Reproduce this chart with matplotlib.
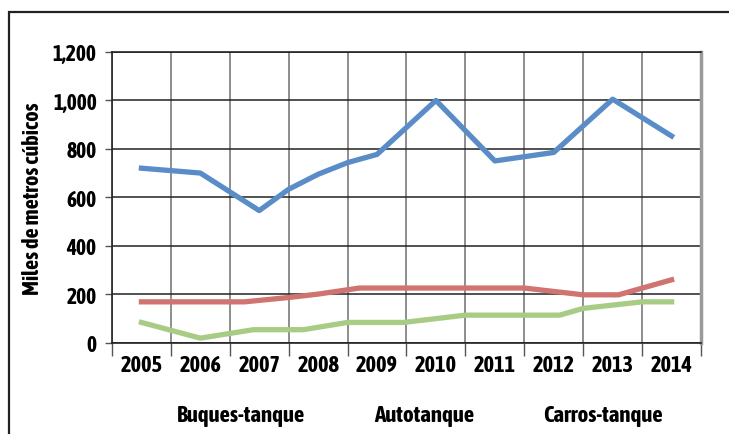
import matplotlib
matplotlib.use("Agg")
import matplotlib.pyplot as plt
from matplotlib.ticker import FuncFormatter, MultipleLocator
from matplotlib.patches import Rectangle

plt.rcParams['font.family'] = ['Asap Condensed', 'Archivo Narrow', 'DejaVu Sans']
plt.rcParams['font.weight'] = 'bold'
plt.rcParams['axes.labelweight'] = 'bold'

# datos (x en años, y en miles de m3)
years = [2005, 2006, 2007, 2008, 2009, 2010, 2011, 2012, 2013, 2014]

buques_x = [2005, 2006, 2007, 2007.5, 2008, 2008.5, 2009, 2010, 2011, 2012, 2013, 2014]
buques_y = [720, 700, 545, 633, 695, 743, 777, 1000, 750, 785, 1005, 853]

auto_x = [2005, 2006.75, 2007.5, 2008, 2008.7, 2011.5, 2012.5, 2013.1, 2014]
auto_y = [168, 168, 186, 200, 225, 225, 197, 197, 259]

carros_x = [2005, 2006, 2006.9, 2007.75, 2008.5, 2009.45, 2010.5, 2012.1, 2012.5, 2013.5, 2014]
carros_y = [83, 18, 53, 53, 83, 83, 113, 113, 141, 168, 168]

series = ['Buques-tanque', 'Autotanque', 'Carros-tanque']
colores = ['#5A8DC8', '#CF7470', '#A9CC85']

fig = plt.figure(figsize=(7.29, 4.35), dpi=100)
ax = fig.add_axes([0.1536, 0.2103, 0.8080, 0.6679])

ax.plot(buques_x, buques_y, color=colores[0], lw=3.8, label=series[0], zorder=3)
ax.plot(auto_x, auto_y, color=colores[1], lw=3.8, label=series[1], zorder=3)
ax.plot(carros_x, carros_y, color=colores[2], lw=3.8, label=series[2], zorder=3)

ax.set_xlim(2004.5, 2014.5)
ax.set_ylim(0, 1200)
ax.set_xticks(years)
ax.set_xticklabels([str(y) for y in years], fontsize=16)
ax.xaxis.set_minor_locator(MultipleLocator(1, offset=0.5))
ax.tick_params(axis='x', which='major', length=0, pad=8)
ax.tick_params(axis='x', which='minor', length=9, width=1, color='#555555', direction='out')
ax.yaxis.set_major_locator(MultipleLocator(200))
ax.yaxis.set_major_formatter(FuncFormatter(lambda v, p: f'{int(v):,}'))
ax.tick_params(axis='y', length=5, width=1, color='#555555', labelsize=15.5, pad=6)

ax.grid(axis='y', color='#222222', lw=1.1, zorder=1)
ax.grid(axis='x', which='minor', color='#7a7a7a', lw=1.2, zorder=1)
ax.set_axisbelow(True)

for s in ['left', 'bottom', 'top']:
    ax.spines[s].set_color('#222222')
    ax.spines[s].set_linewidth(1.2)
ax.spines['right'].set_color('#9a9a9a')
ax.spines['right'].set_linewidth(2.5)

ax.set_ylabel('Miles de metros cúbicos', fontsize=16, labelpad=6)

leg = ax.legend(loc='upper center', bbox_to_anchor=(0.523, -0.14), ncol=3, frameon=False,
                handlelength=0, handletextpad=0, columnspacing=3.0, fontsize=16.5)
for h in leg.legend_handles:
    h.set_visible(False)

# marco exterior
fig.patches.append(Rectangle((8.5 / 729, -0.05), 1.2, 1 - 12.5 / 435 + 0.05,
                             transform=fig.transFigure, fill=False,
                             edgecolor='#222222', lw=1.6))

fig.savefig('out.png', dpi=100)
